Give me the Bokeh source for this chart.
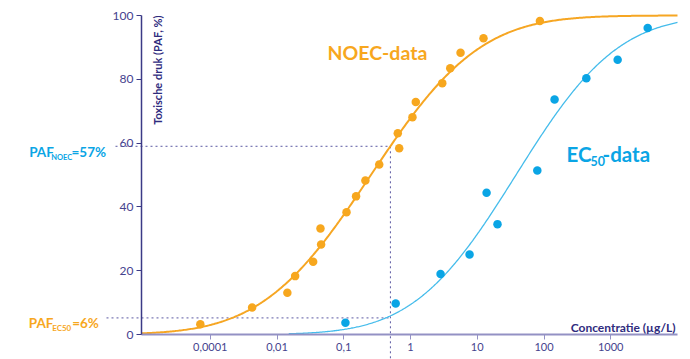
import math
import numpy as np
from bokeh.plotting import figure
from bokeh.models import Range1d, FixedTicker, Label
from bokeh.embed import file_html
from bokeh.resources import INLINE

# ---- data ----
noec_conc = [7.1e-4, 4.24e-3, 0.0143, 0.0187, 0.0348, 0.0458, 0.0448, 0.110, 0.153, 0.211,
             0.34, 0.645, 0.677, 1.07, 1.2, 2.99, 3.94, 5.62, 12.4, 86.8]
noec_paf = [3.2, 8.5, 13.1, 18.3, 22.8, 28.2, 33.2, 38.3, 43.3, 48.3,
            53.3, 63.1, 58.4, 68.1, 72.9, 78.8, 83.5, 88.3, 92.9, 98.3]
ec50_conc = [0.106, 0.6, 2.82, 7.67, 20.1, 13.8, 79.4, 144, 431, 1269, 3575]
ec50_paf = [3.7, 9.7, 19.0, 25.1, 34.6, 44.4, 51.4, 73.7, 80.3, 86.1, 96.1]

# log-normal fits (log10 mean, log10 sd)
noec_fit = [-0.593, 1.279]
ec50_fit = [1.58, 1.2]

x_ticks = [0.001, 0.01, 0.1, 1, 10, 100, 1000]
x_tick_labels = ["0,0001", "0,01", "0,1", "1", "10", "100", "1000"]
y_ticks = [0, 20, 40, 60, 80, 100]

conc_marker = [0.5]
paf_noec_marker = [59]
paf_ec50_marker = [5.2]

ORANGE = "#F7A71E"
ORANGE_LINE = "#F6A623"
BLUE = "#0AA5E5"
BLUE_LINE = "#45BCEB"
NAVY = "#3B3A86"
NAVY_TXT = "#45438E"
AXIS_X = "#9391C4"
FONT = "Lato"

X0, X1 = 10 ** -4.03, 10 ** 4.0
W, H = 690, 359


def px2x(px):
    return 10 ** ((px - 410) / 66.75)


def py2y(py):
    return (334 - py) / 3.19


def cdf(xs, mu, sd):
    return [50 * (1 + math.erf((math.log10(v) - mu) / (sd * math.sqrt(2)))) for v in xs]


p = figure(width=W, height=H, x_axis_type="log",
           x_range=Range1d(px2x(0), px2x(W)), y_range=Range1d(py2y(H), py2y(0)),
           output_backend="svg", toolbar_location=None,
           min_border=0, min_border_left=0, min_border_right=0,
           min_border_top=0, min_border_bottom=0)
p.outline_line_color = None
p.xgrid.visible = False
p.ygrid.visible = False
p.background_fill_color = "white"
p.border_fill_color = "white"

# dotted guide lines
p.segment(x0=[px2x(115), px2x(106), conc_marker[0]],
          y0=[paf_noec_marker[0], paf_ec50_marker[0], paf_noec_marker[0]],
          x1=[conc_marker[0], conc_marker[0], conc_marker[0]],
          y1=[paf_noec_marker[0], paf_ec50_marker[0], py2y(H)],
          line_color="#5B58A2", line_width=1, line_dash="2 3")

# curves
xo = np.logspace(math.log10(X0), math.log10(X1), 400)
p.line(xo, cdf(xo, *noec_fit), line_color=ORANGE_LINE, line_width=2)
xb = np.logspace(math.log10(0.015), math.log10(X1), 400)
p.line(xb, cdf(xb, *ec50_fit), line_color=BLUE_LINE, line_width=1.3)

# points
p.scatter(noec_conc, noec_paf, size=8.5, fill_color=ORANGE, line_color=None)
p.scatter(ec50_conc, ec50_paf, size=8.5, fill_color=BLUE, line_color=None)

# axes
xa = p.xaxis[0]
xa.fixed_location = 0
xa.bounds = (X0, X1)
xa.ticker = FixedTicker(ticks=x_ticks)
xa.major_label_overrides = dict(zip(x_ticks, x_tick_labels))
xa.minor_tick_line_color = None
xa.axis_line_color = AXIS_X
xa.axis_line_width = 2
xa.major_tick_line_color = AXIS_X
xa.major_tick_in = 0
xa.major_tick_out = 5
xa.major_label_standoff = 3
xa.major_label_text_font = FONT
xa.major_label_text_font_size = "11px"
xa.major_label_text_color = NAVY_TXT

ya = p.yaxis[0]
ya.fixed_location = X0
ya.bounds = (0, 100)
ya.ticker = FixedTicker(ticks=y_ticks)
ya.minor_tick_line_color = None
ya.axis_line_color = NAVY
ya.axis_line_width = 1.5
ya.major_tick_line_color = NAVY
ya.major_tick_in = 0
ya.major_tick_out = 5
ya.major_label_standoff = 3
ya.major_label_text_font = FONT
ya.major_label_text_font_size = "12px"
ya.major_label_text_color = NAVY_TXT


# texts
def lab(text, px, py, size, color, bold=True, align="left", **kw):
    p.add_layout(Label(x=px2x(px), y=py2y(py), text=text, text_font=FONT,
                       text_font_size=size, text_color=color,
                       text_font_style="bold" if bold else "normal",
                       text_align=align, text_baseline="alphabetic", **kw))


lab("NOEC-data", 327, 52, "19.5px", ORANGE)
lab("EC", 566, 153.3, "20.5px", BLUE)
lab("50", 590, 160.7, "12.5px", BLUE)
lab("-data", 602, 153.3, "20.5px", BLUE)

lab("PAF", 28.7, 151.7, "13.5px", BLUE)
lab("NOEC", 50.7, 157.3, "7.5px", BLUE)
lab("=57%", 71, 151.7, "13.5px", BLUE)

lab("PAF", 28.3, 322.7, "13.5px", ORANGE)
lab("EC50", 51.7, 327.3, "8px", ORANGE)
lab("=6%", 71.7, 322.7, "13.5px", ORANGE)

lab("Concentratie (\u00b5g/L)", 675, 326.7, "12px", "#2F2C7E", align="right")

p.add_layout(Label(x=px2x(150), y=100, text="Toxische druk (PAF, %)", angle=math.pi / 2,
                   text_font=FONT, text_font_size="11px", text_color="#2F2C7E",
                   text_font_style="bold", text_align="right", text_baseline="top"))

open("out.html", "w").write(file_html(p, INLINE))
